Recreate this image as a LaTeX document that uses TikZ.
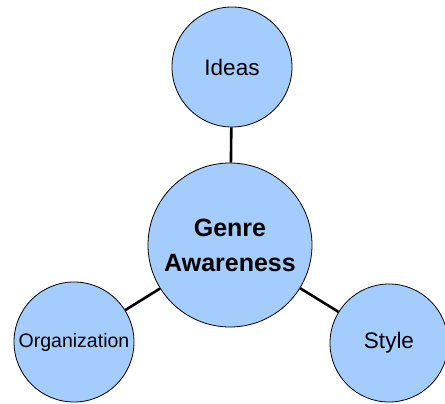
\documentclass[tikz,border=0pt]{standalone}
\usepackage{fontspec}
\setmainfont{Liberation Sans}
\usetikzlibrary{positioning}

\definecolor{bubble}{RGB}{164,204,252}

\tikzset{
  topic/.style={circle, draw=black, line width=0.8pt, fill=bubble, inner sep=0pt,
    minimum size=120pt, font=\fontsize{22.5}{26}\selectfont},
  hub/.style={topic, minimum size=164pt, align=center,
    font=\fontsize{25}{35}\selectfont\bfseries},
  link/.style={line width=2.6pt}
}

\begin{document}
\begin{tikzpicture}[x=1pt,y=-1pt]
    \useasboundingbox (0,0) rectangle (445,404);

    \node[hub] (genre) at (230,245) {Genre\\Awareness};
    \node[topic] (ideas) at (232,67) {Ideas};
    \node[topic, font=\fontsize{19.5}{23}\selectfont] (org) at (74,342) {Organization};
    \node[topic, minimum size=118pt] (style) at (389,343) {Style};

    \draw[link] (genre) -- (ideas);
    \draw[link] (genre) -- (org);
    \draw[link] (genre) -- (style);
\end{tikzpicture}
\end{document}
